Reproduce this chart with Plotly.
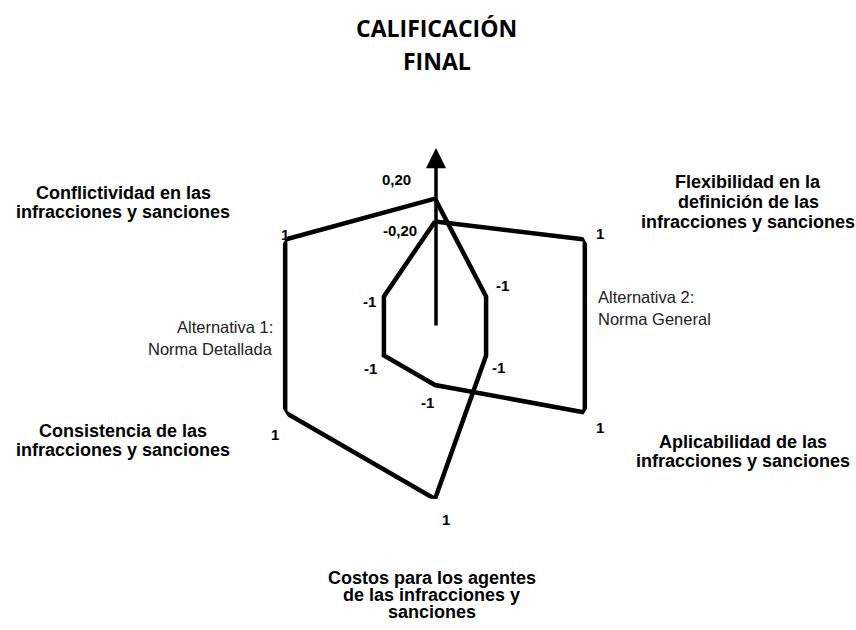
import plotly.graph_objects as go

# criteria, clockwise starting at the top
criteria = [
    "Calificación final",
    "Flexibilidad",
    "Aplicabilidad",
    "Costos",
    "Consistencia",
    "Conflictividad",
]
alt1_values = [0.20, -1, -1, 1, 1, 1]      # Alternativa 1: Norma Detallada
alt2_values = [-0.20, 1, 1, -1, -1, -1]    # Alternativa 2: Norma General
alt1_labels = ["0,20", "-1", "-1", "1", "1", "1"]
alt2_labels = ["-0,20", "1", "1", "-1", "-1", "-1"]

title_lines = ["CALIFICACIÓN", "FINAL"]
axis_titles = [
    ["Flexibilidad en la", "definición de las", "infracciones y sanciones"],
    ["Aplicabilidad de las", "infracciones y sanciones"],
    ["Costos para los agentes", "de las infracciones y", "sanciones"],
    ["Consistencia de las", "infracciones y sanciones"],
    ["Conflictividad en las", "infracciones y sanciones"],
]
alt_names = [["Alternativa 1:", "Norma Detallada"], ["Alternativa 2:", "Norma General"]]

W, H = 856, 630
BOLD = "Liberation Sans"


def px(x, y):
    return x / W, 1 - y / H


def add_lines(fig, lines, x, y_first, gap, size, family, bold=True, xanchor="center", color="black"):
    for i, line in enumerate(lines):
        px_x, px_y = px(x, y_first + i * gap)
        fig.add_annotation(
            x=px_x, y=px_y, xref="paper", yref="paper",
            text=f"<b>{line}</b>" if bold else line,
            showarrow=False, xanchor=xanchor, yanchor="middle",
            font=dict(family=family, size=size, color=color),
        )


fig = go.Figure()

for vals in (alt1_values, alt2_values):
    fig.add_trace(
        go.Scatterpolar(
            r=vals + vals[:1],
            theta=criteria + criteria[:1],
            mode="lines",
            line=dict(color="black", width=4.5),
            hoverinfo="skip",
        )
    )

# polar centre sits at (435, 326) px, outer radius 173 px
cx, cy, rad = 435, 326, 173
fig.update_layout(
    width=W,
    height=H,
    margin=dict(l=0, r=0, t=0, b=0),
    paper_bgcolor="white",
    plot_bgcolor="white",
    showlegend=False,
    polar=dict(
        domain=dict(x=[(cx - rad) / W, (cx + rad) / W], y=[1 - (cy + rad) / H, 1 - (cy - rad) / H]),
        bgcolor="white",
        radialaxis=dict(range=[-2.035, 1], visible=False),
        angularaxis=dict(rotation=90, direction="clockwise", visible=False),
    ),
)

# vertical arrow for the final score axis
tip_x, tip_y = px(436, 148)
fig.add_annotation(
    x=tip_x, y=tip_y, xref="paper", yref="paper", text="",
    showarrow=True, ax=0, ay=327 - 148, axref="pixel", ayref="pixel",
    arrowhead=2, arrowsize=1.15, arrowwidth=3.5, arrowcolor="black", standoff=0,
)

# title
add_lines(fig, title_lines, 437, 28, 33, 23, "Open Sans")

# criteria titles
title_pos = [(748, 182, 20), (743, 442, 19), (432, 578, 17), (123, 431, 19), (123, 193, 19)]
for lines, (x, y, gap) in zip(axis_titles, title_pos):
    add_lines(fig, lines, x, y, gap, 18, BOLD)

# value labels
alt1_pos = [(396, 179), (502, 286), (498, 367), (446, 519), (275, 434), (285, 234)]
alt2_pos = [(400, 230), (600, 233), (600, 427), (427, 403), (370, 368), (369, 301)]
for labels, positions in ((alt1_labels, alt1_pos), (alt2_labels, alt2_pos)):
    for lab, (x, y) in zip(labels, positions):
        add_lines(fig, [lab], x, y, 0, 15, BOLD)

# alternative names
add_lines(fig, alt_names[0], 275, 327, 22, 16.5, "Liberation Sans", bold=False, xanchor="right", color="#222")
add_lines(fig, alt_names[1], 596, 297, 22, 16.5, "Liberation Sans", bold=False, xanchor="left", color="#222")

fig.write_html(
    "out.html",
    config={"displayModeBar": False},
    post_script="document.body.style.margin='0';",
)
